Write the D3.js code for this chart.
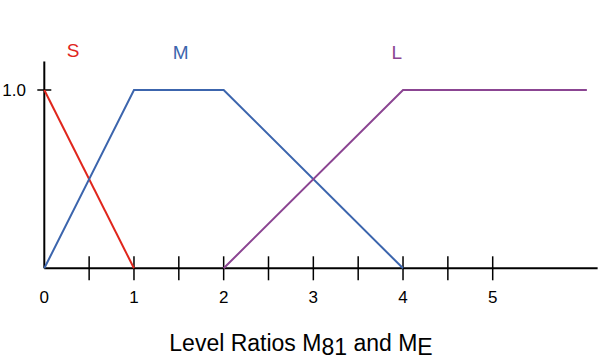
<!DOCTYPE html>
<html><head><meta charset="utf-8">
<script src="https://cdn.jsdelivr.net/npm/d3@7"></script>
<style>body{margin:0;background:#fff}svg{display:block}text{font-family:"Liberation Sans",Arial,sans-serif}</style>
</head><body><svg id="c" width="600" height="364"></svg>
<script>
const xTicks = [0,1,2,3,4,5];
const xMinorTicks = [0.5,1.5,2.5,3.5,4.5];
const xAxisEnd = 6.17;
const seriesNames = ["S","M","L"];
const seriesColors = ["#e0261c","#3c65ad","#8b4592"];
const S_x = [0,1], S_y = [1,0];
const M_x = [0,1,2,4], M_y = [0,1,1,0];
const L_x = [2,4,6.05], L_y = [0,1,1];
const labelPos = [[0.32,1.19],[1.52,1.18],[3.93,1.18]];

const svg = d3.select("#c");
const x = d3.scaleLinear().domain([0,5]).range([44.3,492.7]);
const y = d3.scaleLinear().domain([0,1]).range([268.3,90]);

svg.append("line").attr("x1",x(0)).attr("x2",x(xAxisEnd)).attr("y1",y(0)).attr("y2",y(0)).attr("stroke","#000").attr("stroke-width",2);
svg.append("line").attr("x1",x(0)).attr("x2",x(0)).attr("y1",y(0)).attr("y2",y(1.16)).attr("stroke","#000").attr("stroke-width",2);
svg.selectAll(".tk").data(xTicks.slice(1).concat(xMinorTicks)).enter().append("line")
  .attr("x1",d=>x(d)).attr("x2",d=>x(d)).attr("y1",y(0)-12).attr("y2",y(0)+12).attr("stroke","#000").attr("stroke-width",1.5);
svg.selectAll(".tl").data(xTicks).enter().append("text")
  .attr("x",d=>x(d)).attr("y",303).attr("text-anchor","middle").style("font-size","17px").text(d=>d);
svg.append("line").attr("x1",x(0)-7).attr("x2",x(0)+7).attr("y1",y(1)).attr("y2",y(1)).attr("stroke","#000").attr("stroke-width",1.5);
svg.append("text").attr("x",26).attr("y",y(1)+6).attr("text-anchor","end").style("font-size","17px").text("1.0");

const line = d3.line().x(d=>x(d[0])).y(d=>y(d[1]));
const series = [[S_x,S_y],[M_x,M_y],[L_x,L_y]];
series.forEach((s,i)=>{
  const pts = s[0].map((v,j)=>[v,s[1][j]]);
  svg.append("path").attr("d",line(pts)).attr("fill","none").attr("stroke",seriesColors[i]).attr("stroke-width",2);
  svg.append("text").attr("x",x(labelPos[i][0])).attr("y",y(labelPos[i][1])+1).attr("text-anchor","middle")
    .style("font-size","19px").attr("fill",seriesColors[i]).text(seriesNames[i]);
});

const t = svg.append("text").attr("x",301).attr("y",351).attr("text-anchor","middle").style("font-size","23px");
t.append("tspan").text("Level Ratios M");
t.append("tspan").attr("dy",4).text("81");
t.append("tspan").attr("dy",-4).text(" and M");
t.append("tspan").attr("dy",4).text("E");
</script></body></html>
